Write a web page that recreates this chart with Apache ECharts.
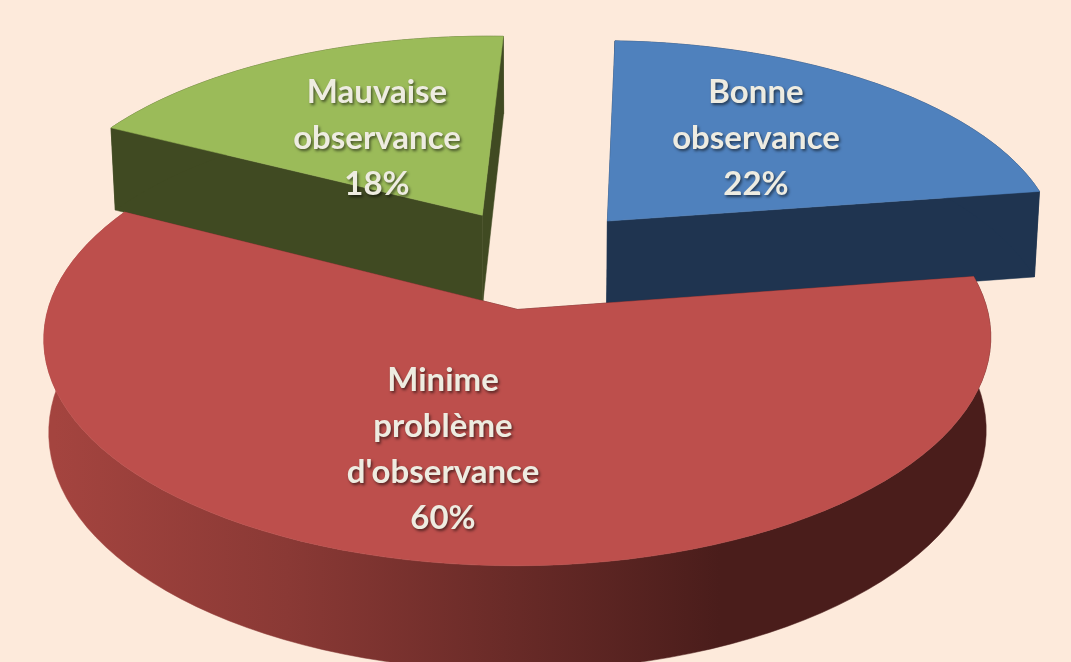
<!DOCTYPE html>
<html><head><meta charset="utf-8">
<style>html,body{margin:0;padding:0;background:#fdeadb}#c{width:1071px;height:662px}</style>
<script src="https://cdn.jsdelivr.net/npm/echarts@6/dist/echarts.min.js"></script>
</head><body><div id="c"></div>
<script>
// Data
const categories = ["Bonne\nobservance", "Minime\nproblème\nd'observance", "Mauvaise\nobservance"];
const values = [22, 60, 18];
// Style: colours and label anchors
const topColors = ['#4f81bd', '#bd4f4c', '#9bbb59'];
const wallColors = ['#1f3450', '#4a1d1b', '#404a22'];
const labelAnchors = [[756, 138], [443, 449], [377, 138]];
const drawOrder = [1, 3, 2]; // z rank: back slices first, the front slice last

// 3D pie projection parameters
const startDeg = 2.2, explode = 0.24;
const X0 = 536, Y0 = 258, RX = 456, RY = 211, K = 0.123, DEPTH = 89, SHRINK = 0.99;
const total = values.reduce((a, b) => a + b, 0);

function project(u, v, low) {
  const w = 1 + K * v;
  const x = RX * u / w, y = -RY * v / w;
  return low ? [X0 + x * SHRINK, Y0 + y + DEPTH / w] : [X0 + x, Y0 + y];
}
function renderItem(params, api) {
  const idx = params.dataIndex;
  const val = api.value(0);
  let before = 0;
  for (let i = 0; i < idx; i++) before += values[i];
  const a0 = (startDeg + before / total * 360) * Math.PI / 180;
  const a1 = a0 + val / total * 2 * Math.PI;
  const mid = (a0 + a1) / 2;
  const cu = explode * Math.sin(mid), cv = explode * Math.cos(mid);
  const n = 90, rimT = [], rimB = [];
  for (let i = 0; i <= n; i++) {
    const a = a0 + (a1 - a0) * i / n;
    const u = cu + Math.sin(a), v = cv + Math.cos(a);
    rimT.push(project(u, v, false));
    rimB.push(project(u, v, true));
  }
  const cT = project(cu, cv, false), cB = project(cu, cv, true);
  const base = drawOrder[idx] * 10;
  let wallFill = wallColors[idx];
  let rimFill = wallFill;
  if (idx === 1) {
    rimFill = new echarts.graphic.LinearGradient(55, 0, 720, 0, [
      { offset: 0, color: '#a4443f' },
      { offset: 0.35, color: '#8a3935' },
      { offset: 1, color: '#4a1d1b' }
    ], true);
  }
  const poly = (pts, fill, z, stroke) => ({
    type: 'polygon', z2: base + z,
    shape: { points: pts },
    style: { fill: fill, stroke: stroke || fill, lineWidth: stroke ? 1 : 0.5 }
  });
  const children = [];
  children.push(poly([cT, rimT[0], rimB[0], cB], wallFill, 1));
  children.push(poly([cT, rimT[n], rimB[n], cB], wallFill, 1));
  children.push(poly(rimT.concat(rimB.slice().reverse()), rimFill, 2));
  children.push(poly([cT].concat(rimT), topColors[idx], 3));
  children.push({
    type: 'text', z2: 100,
    x: labelAnchors[idx][0], y: labelAnchors[idx][1],
    style: {
      text: categories[idx] + '\n' + val + '%',
      fill: '#eeece1', align: 'center', verticalAlign: 'middle',
      font: 'bold 33px Lato', lineHeight: 46,
      textShadowColor: 'rgba(0,0,0,0.55)', textShadowBlur: 3,
      textShadowOffsetX: 1.5, textShadowOffsetY: 2
    }
  });
  return { type: 'group', children: children };
}
const chart = echarts.init(document.getElementById('c'));
chart.setOption({
  animation: false,
  backgroundColor: '#fdeadb',
  series: [{
    type: 'custom', coordinateSystem: 'none',
    renderItem: renderItem, clip: false,
    data: values.map((v) => [v])
  }]
});
</script></body></html>
